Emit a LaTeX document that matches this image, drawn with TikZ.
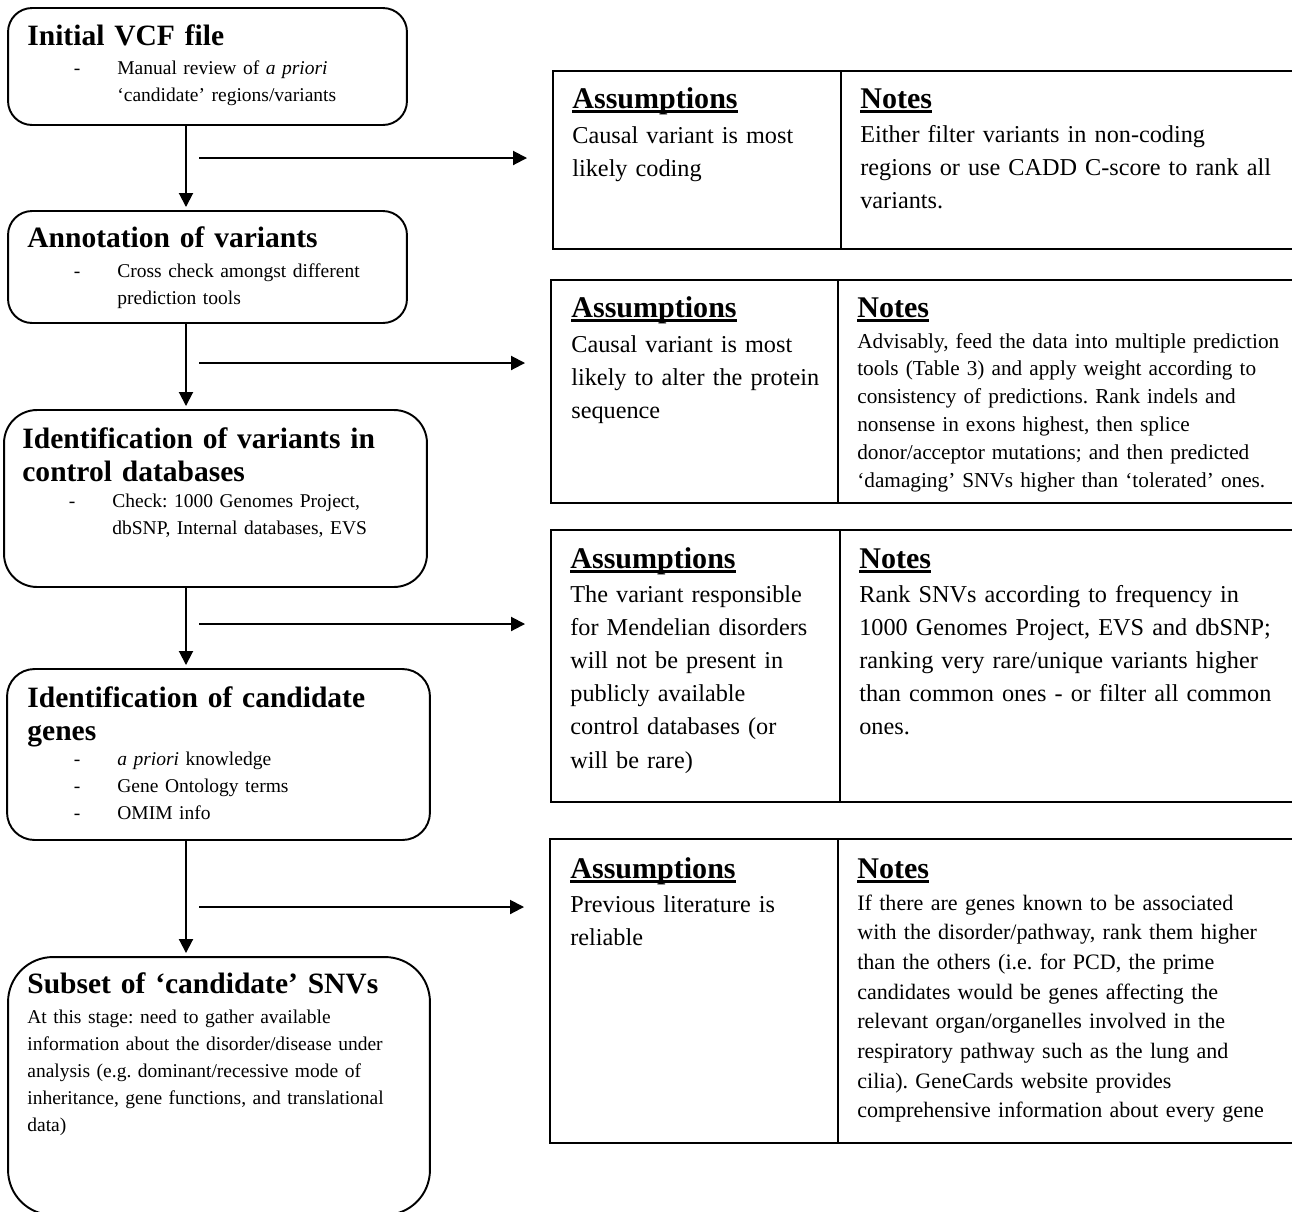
\documentclass[tikz,border=0pt]{standalone}
\usepackage{fontspec}
\setmainfont{Liberation Serif}
\usetikzlibrary{arrows.meta, positioning, calc}
\frenchspacing

\newcommand\dashitem{\leavevmode\llap{-\hspace{0.74cm}}}
\newcommand\ulhead[1]{\leavevmode\setbox0=\hbox{#1}\rlap{\rule[-0.1cm]{\wd0}{0.065cm}}\box0}

\begin{document}
\begin{tikzpicture}[x=0.02cm, y=-0.02cm,
    stage/.style={draw, line width=1.1pt, outer sep=0pt, inner sep=0pt},
    cell/.style={draw, line width=1.1pt, outer sep=0pt, inner sep=0pt},
    txt/.style={anchor=base west, inner sep=0pt, text width=9cm, align=left},
    hd/.style={txt, font=\fontsize{17.1}{18.8}\selectfont\bfseries},
    st/.style={txt, font=\fontsize{16.8}{18.8}\selectfont\bfseries},
    sm/.style={txt, font=\fontsize{11.1}{15.4}\selectfont},
    bd/.style={txt, font=\fontsize{13.8}{18.9}\selectfont},
    nt/.style={txt, font=\fontsize{12.1}{15.9}\selectfont},
    arr/.style={-{Triangle[length=0.28cm, width=0.28cm]}, line width=1.1pt},
  ]
  \useasboundingbox (0,0) rectangle (1292,1211);
  \clip (0,0) rectangle (1292,1211);

  % left column: the filtering steps
  \node[stage, rounded corners=0.48cm, minimum width=7.98cm, minimum height=2.34cm] (b1) at (207.5,66.5) {};
  \node[stage, rounded corners=0.48cm, minimum width=7.98cm, minimum height=2.24cm] (b2) at (207.5,267) {};
  \node[stage, rounded corners=0.66cm, minimum width=8.46cm, minimum height=3.54cm] (b3) at (215.5,498.5) {};
  \node[stage, rounded corners=0.55cm, minimum width=8.46cm, minimum height=3.42cm] (b4) at (218.5,754.5) {};
  \node[stage, rounded corners=0.9cm, minimum width=8.44cm, minimum height=5.16cm] (b5) at (219,1086) {};

  \node[st] (b1t) at ($(b1.north west)+(19,37)$) {Initial VCF file};
  \node[sm] (b1x) at ($(b1.north west)+(109,66)$)
    {\dashitem Manual review of \textit{a priori}\\‘candidate’ regions/variants};
  \node[st] (b2t) at ($(b2.north west)+(19,36)$) {Annotation of variants};
  \node[sm] (b2x) at ($(b2.north west)+(109,66)$)
    {\dashitem Cross check amongst different\\prediction tools};
  \node[st] (b3t) at ($(b3.north west)+(18,38)$) {Identification of variants in\\control databases};
  \node[sm] (b3x) at ($(b3.north west)+(108,97)$)
    {\dashitem Check: 1000 Genomes Project,\\dbSNP, Internal databases, EVS};
  \node[st] (b4t) at ($(b4.north west)+(20,38)$) {Identification of candidate\\genes};
  \node[sm] (b4x) at ($(b4.north west)+(110,96)$)
    {\dashitem \textit{a priori} knowledge\\\dashitem Gene Ontology terms\\\dashitem OMIM info};
  \node[st] (b5t) at ($(b5.north west)+(19,36)$) {Subset of ‘candidate’ SNVs};
  \node[sm] (b5x) at ($(b5.north west)+(19,66)$)
    {At this stage: need to gather available\\information about the disorder/disease under\\analysis (e.g. dominant/recessive mode of\\inheritance, gene functions, and translational\\data)};

  % right column: assumptions and notes
  \node[cell, minimum width=5.76cm, minimum height=3.56cm] (r1a) at (697,160) {};
  \node[cell, minimum width=9.18cm, minimum height=3.56cm, right=0pt of r1a] (r1b) {};
  \node[cell, minimum width=5.74cm, minimum height=4.46cm] (r2a) at (694.5,391.5) {};
  \node[cell, minimum width=9.24cm, minimum height=4.46cm, right=0pt of r2a] (r2b) {};
  \node[cell, minimum width=5.78cm, minimum height=5.44cm] (r3a) at (695.5,666) {};
  \node[cell, minimum width=9.2cm, minimum height=5.44cm, right=0pt of r3a] (r3b) {};
  \node[cell, minimum width=5.76cm, minimum height=6.08cm] (r4a) at (694,991) {};
  \node[cell, minimum width=9.24cm, minimum height=6.08cm, right=0pt of r4a] (r4b) {};

  \node[hd] (r1ah) at ($(r1a.north west)+(19,37)$) {\ulhead{Assumptions}};
  \node[bd] (r1ax) at ($(r1a.north west)+(19,72)$) {Causal variant is most\\likely coding};
  \node[hd] (r1bh) at ($(r1b.north west)+(19,37)$) {\ulhead{Notes}};
  \node[bd] (r1bx) at ($(r1b.north west)+(19,71)$)
    {Either filter variants in non-coding\\regions or use CADD C-score to rank all\\variants.};

  \node[hd] (r2ah) at ($(r2a.north west)+(20,37)$) {\ulhead{Assumptions}};
  \node[bd] (r2ax) at ($(r2a.north west)+(20,72)$) {Causal variant is most\\likely to alter the protein\\sequence};
  \node[hd] (r2bh) at ($(r2b.north west)+(19,37)$) {\ulhead{Notes}};
  \node[nt] (r2bx) at ($(r2b.north west)+(19,68)$)
    {Advisably, feed the data into multiple prediction\\tools (Table 3) and apply weight according to\\consistency of predictions. Rank indels and\\nonsense in exons highest, then splice\\donor/acceptor mutations; and then predicted\\‘damaging’ SNVs higher than ‘tolerated’ ones.};

  \node[hd] (r3ah) at ($(r3a.north west)+(19,38)$) {\ulhead{Assumptions}};
  \node[bd] (r3ax) at ($(r3a.north west)+(19,72)$)
    {The variant responsible\\for Mendelian disorders\\will not be present in\\publicly available\\control databases (or\\will be rare)};
  \node[hd] (r3bh) at ($(r3b.north west)+(19,38)$) {\ulhead{Notes}};
  \node[bd] (r3bx) at ($(r3b.north west)+(19,72)$)
    {Rank SNVs according to frequency in\\1000 Genomes Project, EVS and dbSNP;\\ranking very rare/unique variants higher\\than common ones - or filter all common\\ones.};

  \node[hd] (r4ah) at ($(r4a.north west)+(20,39)$) {\ulhead{Assumptions}};
  \node[bd] (r4ax) at ($(r4a.north west)+(20,73)$) {Previous literature is\\reliable};
  \node[hd] (r4bh) at ($(r4b.north west)+(19,39)$) {\ulhead{Notes}};
  \node[nt, font=\fontsize{12.55}{16.9}\selectfont] (r4bx) at ($(r4b.north west)+(19,71)$)
    {If there are genes known to be associated\\with the disorder/pathway, rank them higher\\than the others (i.e. for PCD, the prime\\candidates would be genes affecting the\\relevant organ/organelles involved in the\\respiratory pathway such as the lung and\\cilia). GeneCards website provides\\comprehensive information about every gene};

  % connectors
  \coordinate (spine) at (186,0);
  \draw[arr, shorten >=0.08cm] (spine |- b1.south) -- (spine |- b2.north);
  \draw[arr, shorten >=0.08cm] (spine |- b2.south) -- (spine |- b3.north);
  \draw[arr, shorten >=0.08cm] (spine |- b3.south) -- (spine |- b4.north);
  \draw[arr, shorten >=0.08cm] (spine |- b4.south) -- (spine |- b5.north);

  \coordinate (h1) at (199,158);
  \coordinate (h2) at (199,363);
  \coordinate (h3) at (199,624);
  \coordinate (h4) at (199,907);
  \draw[arr, shorten >=0.52cm] (h1) -- (h1 -| r1a.west);
  \draw[arr, shorten >=0.52cm] (h2) -- (h2 -| r2a.west);
  \draw[arr, shorten >=0.52cm] (h3) -- (h3 -| r3a.west);
  \draw[arr, shorten >=0.52cm] (h4) -- (h4 -| r4a.west);
\end{tikzpicture}
\end{document}
